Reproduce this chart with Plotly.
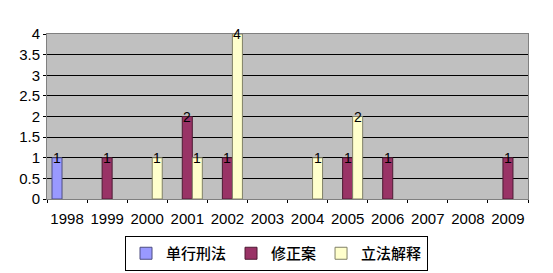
import plotly.graph_objects as go

years = ["1998", "1999", "2000", "2001", "2002", "2003", "2004", "2005", "2006", "2007", "2008", "2009"]
series_names = ["单行刑法", "修正案", "立法解释"]
danxing = [1, 0, 0, 0, 0, 0, 0, 0, 0, 0, 0, 0]
xiuzheng = [0, 1, 0, 2, 1, 0, 0, 1, 1, 0, 0, 1]
lifa = [0, 0, 1, 1, 4, 0, 1, 2, 0, 0, 0, 0]
colors = ["#9999FF", "#993366", "#FFFFCC"]
edges = ["#4d4d80", "#4d1a33", "#808066"]
y_ticks = [0, 0.5, 1, 1.5, 2, 2.5, 3, 3.5, 4]

fig = go.Figure()
all_series = [danxing, xiuzheng, lifa]
for name, vals, c, e in zip(series_names, all_series, colors, edges):
    fig.add_trace(go.Bar(
        x=years, y=[v if v else None for v in vals], name=name,
        marker=dict(color=c, line=dict(color=e, width=1)),
    ))

# value labels
for i, vals in enumerate(all_series):
    for j, v in enumerate(vals):
        if v:
            fig.add_annotation(x=j, y=v, text=str(v), showarrow=False,
                               xshift=(i - 1) * 10, yanchor="middle",
                               font=dict(family="Arial", size=14, color="black"))

fig.update_layout(
    width=553, height=273,
    margin=dict(l=47, r=25, t=34, b=74, autoexpand=False),
    paper_bgcolor="white", plot_bgcolor="#C0C0C0",
    barmode="group", bargap=0.25, bargroupgap=0,
    font=dict(family="Arial", size=15, color="black"),
    showlegend=True,
    legend=dict(orientation="h", x=0.5, xref="container", xanchor="center",
                y=1 - 236 / 273, yref="container", yanchor="top",
                bordercolor="black", borderwidth=1, bgcolor="white",
                font=dict(family="Noto Sans CJK SC", size=15, weight=500),
                itemwidth=30, tracegroupgap=0),
)
fig.update_xaxes(type="category", categoryorder="array", categoryarray=years,
                 range=[-0.5, len(years) - 0.5], tickangle=0, automargin=False,
                 showline=True, linecolor="#808080", mirror=True,
                 ticks="outside", tickson="boundaries", ticklen=3, tickcolor="black",
                 ticklabelstandoff=6, tickfont=dict(size=15))
fig.update_yaxes(range=[0, 4], tickvals=y_ticks, ticktext=[f"{t:g}" for t in y_ticks],
                 automargin=False,
                 showgrid=True, gridcolor="black", gridwidth=1,
                 showline=True, linecolor="#808080", mirror=True, zeroline=False,
                 ticks="outside", ticklen=3, tickcolor="black", tickfont=dict(size=15))

fig.write_html("out.html")
